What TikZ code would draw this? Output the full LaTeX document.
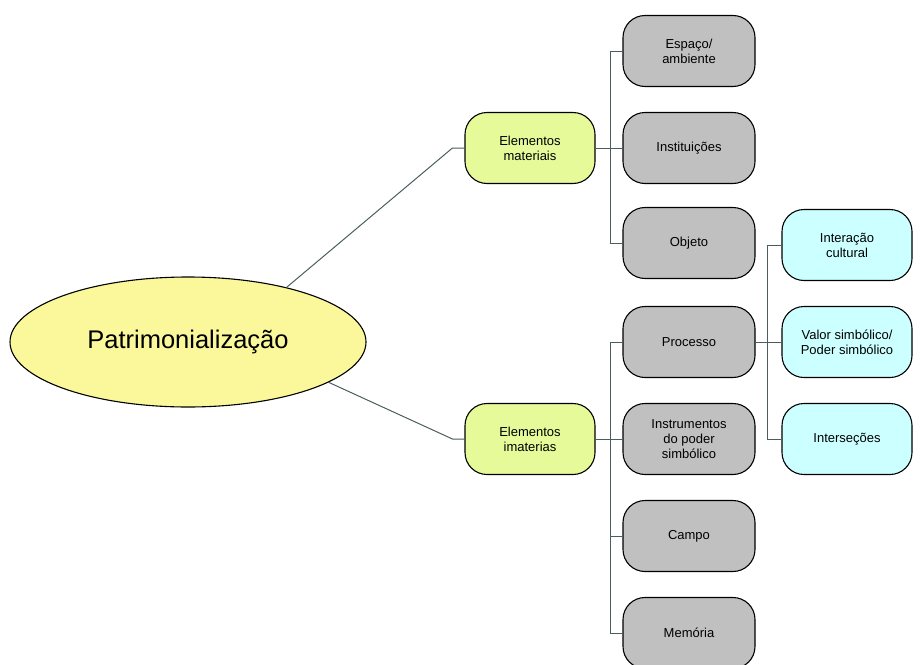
\documentclass[tikz,border=0pt]{standalone}
\usepackage{fontspec}
\setmainfont{Liberation Sans}
\usetikzlibrary{shapes.geometric}
\definecolor{ellfill}{HTML}{FAF89A}
\definecolor{greenfill}{HTML}{E6FA9A}
\definecolor{grayfill}{HTML}{C0C0C0}
\definecolor{bluefill}{HTML}{CCFFFF}
\definecolor{linec}{HTML}{4A5E5E}
\begin{document}
\begin{tikzpicture}[x=1pt,y=-1pt,
  box/.style={draw=black, line width=1.1pt, rounded corners=22pt, minimum width=132pt, minimum height=71pt, align=center, font=\fontsize{13}{15}\selectfont, inner sep=2pt},
  greenbox/.style={box, fill=greenfill, minimum width=130pt},
  graybox/.style={box, fill=grayfill},
  bluebox/.style={box, fill=bluefill, minimum width=130pt},
  link/.style={draw=linec, line width=1pt}]
\useasboundingbox (0,0) rectangle (921,664);
\node[ellipse, draw=black, line width=1.1pt, fill=ellfill, minimum width=356pt, minimum height=130pt, inner sep=0pt, font=\fontsize{25.5}{28}\selectfont] (e) at (188,342) {Patrimonialização};
\node[greenbox] (m) at (530,148) {Elementos\\materiais};
\node[greenbox] (im) at (530,439) {Elementos\\imaterias};
\node[graybox] (g1) at (689,51) {Espaço/\\ambiente};
\node[graybox] (g2) at (689,148) {Instituições};
\node[graybox] (g3) at (689,243) {Objeto};
\node[graybox] (p) at (689,342) {Processo};
\node[graybox] (ins) at (689,439) {Instrumentos\\do poder\\simbólico};
\node[graybox] (c) at (689,536) {Campo};
\node[graybox] (mem) at (689,633) {Memória};
\node[bluebox] (b1) at (847,245) {Interação\\cultural};
\node[bluebox] (b2) at (847,342) {Valor simbólico/\\Poder simbólico};
\node[bluebox] (b3) at (847,439) {Interseções};
\draw[link] (e.29) -- ([xshift=-12pt]m.west) -- (m.west);
\draw[link] (e.-16) -- ([xshift=-12pt]im.west) -- (im.west);
\draw[link] (m.east) -- (g2.west);
\draw[link] (g1.west) -- ++(-12,0) |- (g3.west);
\draw[link] (im.east) -- (ins.west);
\draw[link] (p.west) -- ++(-12,0) |- (mem.west);
\draw[link] (c.west) -- ++(-12,0);
\draw[link] (p.east) -- (b2.west);
\draw[link] (b1.west) -- ++(-14,0) |- (b3.west);
\end{tikzpicture}
\end{document}
